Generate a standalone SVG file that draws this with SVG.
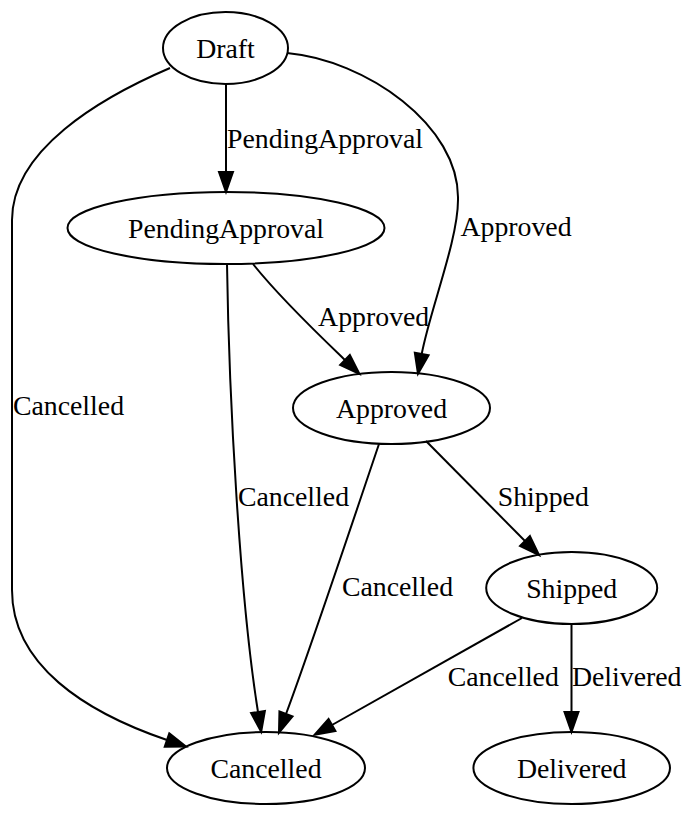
<svg xmlns="http://www.w3.org/2000/svg" width="693" height="816" viewBox="0 0 693 816">
<style>
.node ellipse{fill:none;stroke:#000;stroke-width:2}
text{font-family:"Liberation Serif","Times New Roman",serif;font-size:27.8px;fill:#000;text-anchor:middle}
.edge path{fill:none;stroke:#000;stroke-width:2;marker-end:url(#arrow)}
</style>
<defs>
<marker id="arrow" markerUnits="userSpaceOnUse" markerWidth="20" markerHeight="14" viewBox="0 0 20 14" refX="0" refY="7" orient="auto" overflow="visible">
<path d="M0,0 L20,7 L0,14 Z" fill="#000" stroke="#000" stroke-width="2" stroke-linejoin="miter"/>
</marker>
</defs>
<rect width="693" height="816" fill="#fff"/>
<g id="edges">
<g class="edge" id="e_draft_pending"><path d="M226,84 L226,172"/><text x="325" y="148">PendingApproval</text></g>
<g class="edge" id="e_draft_approved"><path d="M287,53 C365,60 460,125 458,200 C458,240 430,310 421.7,354"/><text x="516" y="236">Approved</text></g>
<g class="edge" id="e_draft_cancelled"><path d="M170,68 C100,98 12,150 12,220 L12,590 C12,665 85,712 167,740"/><text x="68.5" y="415">Cancelled</text></g>
<g class="edge" id="e_pending_approved"><path d="M253,264 C280,298 320,336 345,360"/><text x="373.7" y="326">Approved</text></g>
<g class="edge" id="e_pending_cancelled"><path d="M227,264 C229,400 240,600 258,712"/><text x="293.5" y="506">Cancelled</text></g>
<g class="edge" id="e_approved_cancelled"><path d="M379,444 C360,500 310,650 286,714"/><text x="397.5" y="596">Cancelled</text></g>
<g class="edge" id="e_approved_shipped"><path d="M426,441 L525,541"/><text x="543.3" y="506">Shipped</text></g>
<g class="edge" id="e_shipped_cancelled"><path d="M522,618 L332,725"/><text x="503.3" y="686">Cancelled</text></g>
<g class="edge" id="e_shipped_delivered"><path d="M571.5,624 L571.5,712"/><text x="626.7" y="686">Delivered</text></g>
</g>
<g class="node" id="Draft"><ellipse cx="225.5" cy="48" rx="62.5" ry="36"/><text x="225.5" y="57.5">Draft</text></g>
<g class="node" id="PendingApproval"><ellipse cx="226" cy="228" rx="158.5" ry="36"/><text x="226" y="237.5">PendingApproval</text></g>
<g class="node" id="Approved"><ellipse cx="391.5" cy="408" rx="98.5" ry="36"/><text x="391.5" y="417.5">Approved</text></g>
<g class="node" id="Shipped"><ellipse cx="571.7" cy="588" rx="85.5" ry="36"/><text x="571.7" y="597.5">Shipped</text></g>
<g class="node" id="Cancelled"><ellipse cx="266" cy="768" rx="99" ry="36"/><text x="266" y="777.5">Cancelled</text></g>
<g class="node" id="Delivered"><ellipse cx="571.7" cy="768" rx="98.3" ry="36"/><text x="571.7" y="777.5">Delivered</text></g>
</svg>
